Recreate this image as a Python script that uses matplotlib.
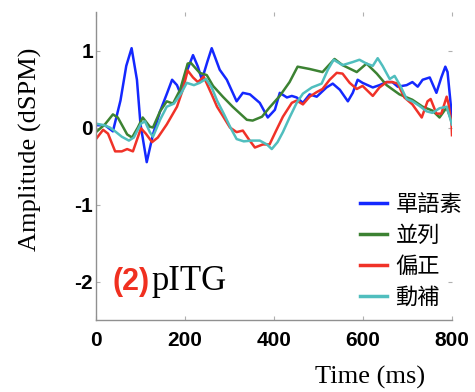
import matplotlib
matplotlib.use("Agg")
import matplotlib.pyplot as plt

# time (ms) and amplitude (dSPM) for each condition
t_blue = [0, 20, 38, 55, 68, 80, 92, 100, 114, 128, 144, 160, 171, 182, 189, 202, 218, 229, 238, 250, 260,
          278, 294, 316, 330, 346, 368, 386, 402, 413, 429, 440, 451, 465, 480, 496, 518, 532, 548, 566,
          577, 588, 599, 622, 637, 653, 666, 678, 698, 711, 723, 734, 750, 765, 776, 785, 790, 798, 800]
a_blue = [0.03, 0.03, -0.05, 0.35, 0.80, 1.03, 0.62, 0.04, -0.45, -0.09, 0.21, 0.45, 0.62, 0.55, 0.45, 0.70,
          0.94, 0.79, 0.62, 0.85, 1.03, 0.75, 0.62, 0.34, 0.45, 0.43, 0.32, 0.13, 0.23, 0.45, 0.39, 0.41,
          0.39, 0.32, 0.43, 0.40, 0.52, 0.57, 0.49, 0.34, 0.45, 0.62, 0.58, 0.52, 0.55, 0.59, 0.59, 0.53,
          0.55, 0.59, 0.53, 0.62, 0.65, 0.45, 0.65, 0.79, 0.72, 0.25, 0.04]

t_green = [0, 20, 38, 49, 70, 81, 94, 105, 121, 128, 144, 159, 173, 189, 206, 213, 233, 249, 263, 285, 307,
           339, 352, 373, 390, 413, 435, 453, 480, 509, 536, 554, 586, 608, 631, 653, 682, 711, 734, 756,
           772, 788, 800]
a_green = [-0.06, 0.04, 0.17, 0.13, -0.09, -0.13, 0.0, 0.13, 0.01, 0.0, 0.21, 0.34, 0.31, 0.49, 0.83, 0.84,
           0.71, 0.68, 0.54, 0.40, 0.27, 0.10, 0.09, 0.14, 0.26, 0.41, 0.59, 0.79, 0.76, 0.72, 0.89, 0.81,
           0.72, 0.83, 0.70, 0.55, 0.43, 0.36, 0.27, 0.22, 0.13, 0.26, 0.07]

t_red = [0, 16, 27, 43, 58, 70, 83, 101, 112, 126, 139, 159, 182, 195, 206, 218, 229, 242, 260, 272, 285,
         301, 316, 330, 343, 357, 375, 390, 404, 420, 440, 451, 465, 480, 496, 509, 525, 541, 554, 570,
         586, 599, 622, 637, 653, 666, 678, 693, 711, 732, 745, 752, 765, 776, 788, 792, 799, 800]
a_red = [-0.15, -0.03, -0.08, -0.31, -0.31, -0.28, -0.31, -0.01, -0.08, -0.19, -0.13, 0.04, 0.27, 0.49,
         0.74, 0.65, 0.59, 0.66, 0.43, 0.27, 0.15, 0.0, -0.06, -0.04, -0.15, -0.26, -0.22, -0.22, -0.05,
         0.14, 0.32, 0.35, 0.30, 0.40, 0.46, 0.50, 0.62, 0.71, 0.70, 0.58, 0.50, 0.54, 0.41, 0.52, 0.59,
         0.59, 0.57, 0.39, 0.30, 0.13, 0.34, 0.37, 0.18, 0.18, 0.40, 0.31, 0.05, -0.10]

t_cyan = [0, 18, 31, 43, 58, 74, 85, 101, 110, 121, 128, 144, 159, 175, 191, 204, 220, 233, 247, 260, 272,
          287, 303, 316, 332, 350, 368, 384, 395, 408, 420, 435, 451, 465, 485, 507, 521, 534, 554, 577,
          592, 608, 622, 633, 644, 660, 671, 684, 698, 711, 727, 743, 756, 772, 788, 800]
a_cyan = [0.05, 0.03, 0.0, -0.05, -0.12, -0.17, -0.13, 0.05, 0.08, -0.06, -0.12, 0.10, 0.27, 0.31, 0.44,
          0.58, 0.55, 0.58, 0.63, 0.52, 0.35, 0.18, -0.01, -0.15, -0.18, -0.17, -0.17, -0.22, -0.28, -0.19,
          -0.06, 0.13, 0.32, 0.44, 0.52, 0.57, 0.75, 0.88, 0.81, 0.85, 0.88, 0.83, 0.80, 0.90, 0.80, 0.63,
          0.67, 0.54, 0.37, 0.34, 0.28, 0.21, 0.19, 0.25, 0.27, 0.04]

labels = ["單語素", "並列", "偏正", "動補"]
colors = ["#1428ff", "#3c8232", "#f03228", "#50bebe"]
xticks = [0, 200, 400, 600, 800]
yticks = [-2, -1, 0, 1]

fig = plt.figure(figsize=(4.75, 3.92), dpi=100)
ax = fig.add_axes([96 / 475, 72 / 392, 356 / 475, 308 / 392])

series = [(t_blue, a_blue), (t_green, a_green), (t_red, a_red), (t_cyan, a_cyan)]
for (t, a), c, lab in zip(series, colors, labels):
    ax.plot(t, a, color=c, lw=1.8, label=lab, solid_joinstyle="round")

ax.set_xlim(0, 800)
ax.set_ylim(-2.5, 1.5)
ax.set_xticks(xticks)
ax.set_yticks(yticks)
ax.set_xticklabels([str(v) for v in xticks], fontfamily="Liberation Sans", fontweight="bold", fontsize=15)
ax.set_yticklabels([str(v) for v in yticks], fontfamily="Liberation Sans", fontweight="bold", fontsize=15)
ax.tick_params(direction="in", length=3, width=0.8, color="#b0b0b0", top=True, right=True)
ax.tick_params(axis="x", pad=8)
ax.tick_params(axis="y", pad=2)
for side in ["top", "right"]:
    ax.spines[side].set_visible(False)
for side in ["left", "bottom"]:
    ax.spines[side].set_color("#909090")
    ax.spines[side].set_linewidth(1.0)

fig.text(30 / 475, 1 - 149 / 392, "Amplitude (dSPM)", rotation=90, ha="center", va="center",
         fontfamily="Liberation Serif", fontsize=19)
fig.text(370 / 475, 1 - 377 / 392, "Time (ms)", ha="center", va="center",
         fontfamily="Liberation Serif", fontsize=19)

fig.text(113 / 475, 1 - 290 / 392, "(2)", ha="left", va="baseline", color="#f03020",
         fontfamily="Liberation Sans", fontweight="bold", fontsize=22)
fig.text(152 / 475, 1 - 290 / 392, "pITG", ha="left", va="baseline",
         fontfamily="Liberation Serif", fontsize=25)

leg = ax.legend(loc="upper left", bbox_to_anchor=(360 / 475, 1 - 193 / 392),
                bbox_transform=fig.transFigure, frameon=False, borderpad=0, borderaxespad=0,
                handlelength=1.2, handletextpad=0.4, labelspacing=0.35,
                prop={"family": ["Noto Sans CJK TC", "DejaVu Sans"], "size": 16})
for line in leg.get_lines():
    line.set_linewidth(2.5)

fig.savefig("out.png", dpi=100)
